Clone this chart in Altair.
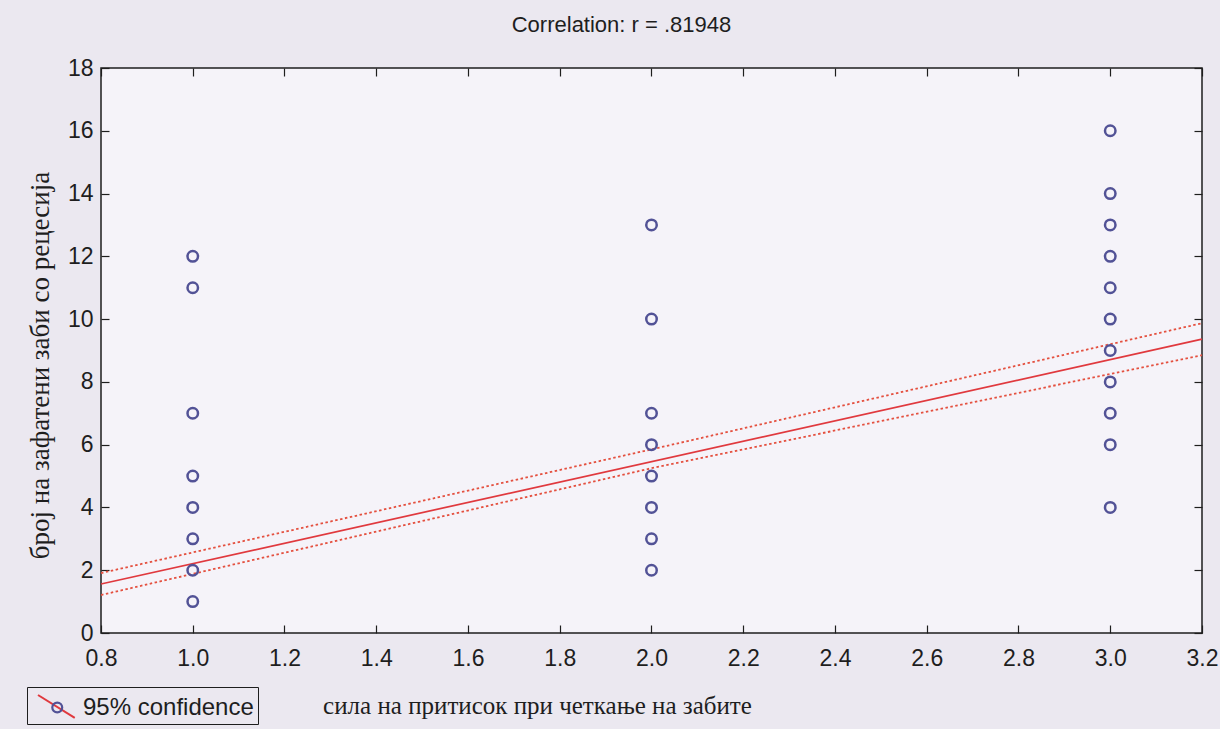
import altair as alt
import pandas as pd

# ---- data ----
group_x = [1.0, 2.0, 3.0]
y_at_1 = [12, 11, 7, 5, 4, 3, 2, 1]
y_at_2 = [13, 10, 7, 6, 5, 4, 3, 2]
y_at_3 = [16, 14, 13, 12, 11, 10, 9, 8, 7, 6, 4]

fit_x = [0.8, 3.2]
fit_y = [1.56, 9.36]

band_x = [0.8, 2.0, 3.2]
band_upper = [1.91, 5.85, 9.87]
band_lower = [1.21, 5.25, 8.85]

x_ticks = [0.8, 1.0, 1.2, 1.4, 1.6, 1.8, 2.0, 2.2, 2.4, 2.6, 2.8, 3.0, 3.2]
y_ticks = [0, 2, 4, 6, 8, 10, 12, 14, 16, 18]

title_text = "Correlation: r = .81948"
x_title = "сила на притисок при четкање на забите"
y_title = "број на зафатени заби со рецесија"
legend_label = "95% confidence"

# ---- tables ----
px, py = [], []
for gx, ys in zip(group_x, [y_at_1, y_at_2, y_at_3]):
    px += [gx] * len(ys)
    py += ys
pts = pd.DataFrame({"x": px, "y": py, "grp": legend_label})
fit = pd.DataFrame({"x": fit_x, "y": fit_y, "g2": "fit"})
band = pd.DataFrame({
    "x": band_x + band_x,
    "y": band_upper + band_lower,
    "side": ["upper"] * len(band_x) + ["lower"] * len(band_x),
})

SANS = "Liberation Sans"
SERIF = "Liberation Serif"
INK = "#1e1e1e"

xs = alt.Scale(domain=[0.8, 3.2], nice=False, zero=False)
ys = alt.Scale(domain=[0, 18], nice=False, zero=False)

common = dict(domain=False, grid=False, tickSize=8, offset=-8, tickColor=INK,
              tickWidth=1.2, labelFlush=False, labelOverlap=False)

x_bottom = alt.Axis(orient="bottom", values=x_ticks, format=".1f", title=x_title,
                    labelFont=SANS, labelFontSize=23, labelColor=INK, labelPadding=14,
                    titleFont=SERIF, titleFontSize=25, titleFontWeight="normal",
                    titleColor=INK, titleX=436, titleY=80, titleBaseline="middle",
                    **common)
y_left = alt.Axis(orient="left", values=y_ticks, format="d", title=y_title,
                  labelFont=SANS, labelFontSize=23, labelColor=INK, labelPadding=8,
                  titleFont=SERIF, titleFontSize=27, titleFontWeight="normal",
                  titleColor=INK, titleX=-69, titleY=297, titleBaseline="middle",
                  titleAngle=270, **common)
x_top = alt.Axis(orient="top", values=x_ticks, labels=False, title=None, **common)
y_right = alt.Axis(orient="right", values=y_ticks, labels=False, title=None, **common)

circle_path = "M0.98,0A0.33,0.33,0,1,1,0.32,0A0.33,0.33,0,1,1,0.98,0Z"
line_path = "M-0.6,-0.8L1.85,0.73"

bands = alt.Chart(band).mark_line(strokeDash=[2.5, 2.5], strokeWidth=1.8, color="#e4503f").encode(
    x=alt.X("x:Q", scale=xs, axis=x_top),
    y=alt.Y("y:Q", scale=ys, axis=y_right),
    detail="side:N",
)

fit_line = alt.Chart(fit).mark_line(strokeWidth=1.7).encode(
    x=alt.X("x:Q", scale=xs, axis=None),
    y=alt.Y("y:Q", scale=ys, axis=None),
    stroke=alt.Stroke("g2:N", scale=alt.Scale(domain=["fit"], range=["#e0393e"]),
                      legend=alt.Legend(title=None, orient="none", legendX=-74, legendY=619,
                                        padding=4, symbolType=line_path, symbolSize=900,
                                        symbolStrokeWidth=2, labelExpr="''",
                                        labelFontSize=24, labelOffset=19)),
)

points = alt.Chart(pts).mark_point(filled=False, size=110, strokeWidth=2.5, opacity=1).encode(
    x=alt.X("x:Q", scale=xs, axis=x_bottom),
    y=alt.Y("y:Q", scale=ys, axis=y_left),
    color=alt.Color("grp:N", scale=alt.Scale(domain=[legend_label], range=["#525296"]),
                    legend=alt.Legend(title=None, orient="none", legendX=-74, legendY=619,
                                      strokeColor=INK, padding=4, cornerRadius=0,
                                      symbolType=circle_path, symbolSize=900,
                                      symbolStrokeWidth=2.2, labelFont=SANS,
                                      labelFontSize=24, labelColor=INK, labelOffset=19,
                                      labelLimit=400)),
)

chart = alt.layer(bands, fit_line, points).resolve_scale(
    x="shared", y="shared"
).resolve_axis(
    x="independent", y="independent"
).properties(
    width=1101,
    height=565,
    autosize=alt.AutoSizeParams(type="none"),
    padding={"left": 101, "top": 68, "right": 18, "bottom": 96},
    title=alt.TitleParams(text=title_text, font=SANS, fontSize=22, fontWeight="normal",
                          color=INK, anchor="middle", dx=-30, offset=20),
).configure(background="#ebe8f0").configure_view(
    fill="#f5f3f9", stroke=INK, strokeWidth=1.5
)

chart.save("out.html", embed_options={"renderer": "svg", "actions": False})
